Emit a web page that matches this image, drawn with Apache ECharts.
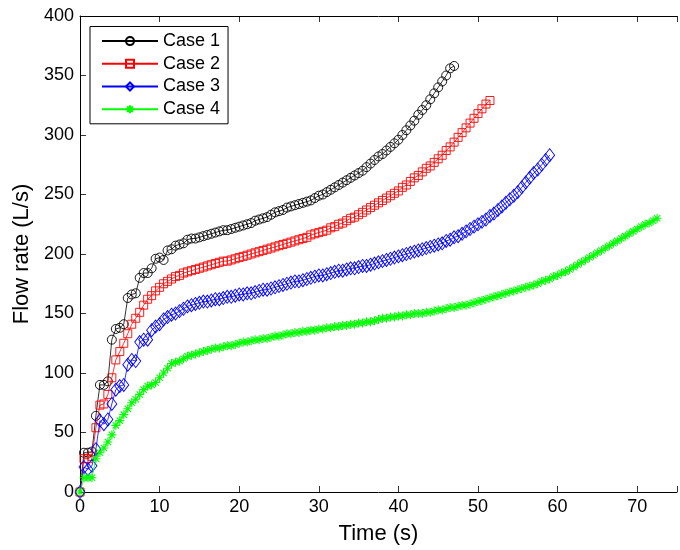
<!DOCTYPE html>
<html>
<head>
<meta charset="utf-8">
<script src="https://cdn.jsdelivr.net/npm/echarts@6/dist/echarts.min.js"></script>
<style>html,body{margin:0;padding:0;background:#fff}#c{width:680px;height:550px}</style>
</head>
<body>
<div id="c"></div>
<script>
var times = [0,0.5,1,1.5,2,2.5,3,3.5,4,4.5,5,5.5,6,6.5,7,7.5,8,8.5,9,9.5,
10,10.5,11,11.5,12,12.5,13,13.5,14,14.5,15,15.5,16,16.5,17,17.5,18,18.5,19,19.5,
20,20.5,21,21.5,22,22.5,23,23.5,24,24.5,25,25.5,26,26.5,27,27.5,28,28.5,29,29.5,
30,30.5,31,31.5,32,32.5,33,33.5,34,34.5,35,35.5,36,36.5,37,37.5,38,38.5,39,39.5,
40,40.5,41,41.5,42,42.5,43,43.5,44,44.5,45,45.5,46,46.5,47,47.5,48,48.5,49,49.5,
50,50.5,51,51.5,52,52.5,53,53.5,54,54.5,55,55.5,56,56.5,57,57.5,58,58.5,59,59.5,
60,60.5,61,61.5,62,62.5,63,63.5,64,64.5,65,65.5,66,66.5,67,67.5,68,68.5,69,69.5,
70,70.5,71,71.5,72,72.5];

var case1 = [0,33,33,34,64,90,90,93,128,137,
138,141,163,166,167,180,184,184,188,196,
197,195,203,204,207,208,209,212,213,213,
214,215,216,217,218,219,220,220,221,222,
223,224,225,226,228,229,230,231,233,235,
236,237,239,240,241,242,243,244,245,247,
249,250,252,254,256,258,260,262,264,266,
268,270,273,276,279,282,284,287,290,293,
296,300,304,308,312,317,321,325,330,335,
340,345,350,356,358];

var case2 = [0,28,28,30,54,73,74,82,96,111,
118,125,133,141,146,151,157,162,165,169,
172,175,177,179,181,182,184,185,186,187,
188,189,190,191,192,193,194,194,195,196,
197,198,199,200,201,202,203,204,205,206,
207,208,209,210,211,212,213,214,216,217,
218,219,220,222,223,225,226,228,230,231,
233,235,237,239,241,243,245,247,249,251,
253,256,258,261,264,266,269,272,274,277,
280,283,287,290,294,298,302,306,310,314,
318,322,326,329];

var case3 = [0,21,19,22,36,60,57,61,74,86,
89,90,107,111,110,126,128,128,136,139,
141,145,147,149,150,152,154,156,157,158,
159,160,160,161,162,162,163,164,164,165,
166,166,167,167,168,169,170,170,171,172,
173,174,175,176,177,177,178,179,180,181,
182,182,183,184,185,186,186,187,188,188,
189,190,190,191,192,193,194,195,196,197,
198,199,200,201,202,203,204,205,206,207,
208,209,211,212,214,215,217,219,221,223,
225,227,229,232,234,237,240,243,246,249,
252,256,260,264,268,271,275,279,283];

var case4 = [0,12,12,12,28,33,37,42,48,56,
60,65,70,75,78,82,86,89,90,92,
96,100,104,108,109,110,112,114,115,116,
117,118,119,120,121,121,122,123,123,124,
125,126,126,127,128,128,129,129,130,131,
131,132,133,133,134,134,135,135,136,136,
137,137,138,138,139,139,140,140,141,141,
142,142,143,143,144,145,146,146,147,147,
148,148,149,149,150,150,150,151,151,152,
153,153,154,155,155,156,157,157,158,159,
160,161,162,163,164,165,166,167,168,169,
170,171,172,173,174,175,177,178,179,181,
182,184,185,187,189,191,193,195,197,199,
201,203,205,207,209,211,213,215,217,219,
221,223,225,226,228,230];

var seriesNames = ['Case 1','Case 2','Case 3','Case 4'];
var xTicks = [0,10,20,30,40,50,60,70];
var yTicks = [0,50,100,150,200,250,300,350,400];

var FONT = '"Liberation Sans", Arial, Helvetica, sans-serif';
var colors = ['#000000','#ff0000','#0000ff','#00ff00'];
var symbols = ['circle','rect','diamond','path://M5,0L5,10M0,5L10,5M1.5,1.5L8.5,8.5M1.5,8.5L8.5,1.5'];
var sizes = [9, 8, [10,13], 9];
var borderW = [0.9, 0.9, 0.9, 1.1];
var allData = [case1, case2, case3, case4];

function pairs(vals){
  var out = [];
  for (var i = 0; i < vals.length; i++) out.push([times[i], vals[i]]);
  return out;
}

var series = allData.map(function(vals, k){
  return {
    name: seriesNames[k],
    type: 'line',
    xAxisIndex: 0,
    data: pairs(vals),
    symbol: symbols[k],
    symbolSize: sizes[k],
    showSymbol: true,
    showAllSymbol: true,
    clip: false,
    lineStyle: {color: colors[k], width: 0.8},
    itemStyle: {color: 'rgba(0,0,0,0)', borderColor: colors[k], borderWidth: borderW[k]},
    emphasis: {disabled: true},
    z: 2 + k
  };
});

var chart = echarts.init(document.getElementById('c'), null, {renderer: 'canvas'});
chart.setOption({
  animation: false,
  backgroundColor: '#ffffff',
  textStyle: {fontFamily: FONT},
  grid: {left: 80, top: 16, width: 608, height: 480.5, containLabel: false},
  legend: {
    left: 90, top: 26.5,
    orient: 'vertical',
    data: seriesNames,
    itemWidth: 56, itemHeight: 10, itemGap: 4.7,
    padding: [5.6, 8, 5.6, 11],
    borderColor: '#000', borderWidth: 1,
    backgroundColor: '#fff',
    textStyle: {fontFamily: FONT, fontSize: 18, color: '#000', lineHeight: 18},
    selectedMode: false
  },
  xAxis: [{
    type: 'value', min: 0, max: 75, interval: 10,
    position: 'bottom',
    name: 'Time (s)', nameLocation: 'middle', nameGap: 31,
    nameTextStyle: {fontFamily: FONT, fontSize: 22, color: '#000'},
    axisLine: {show: true, onZero: false, lineStyle: {color: '#000', width: 1}},
    axisTick: {show: true, inside: true, length: 6, lineStyle: {color: '#000', width: 0.8}},
    axisLabel: {fontFamily: FONT, fontSize: 18, color: '#000', margin: 6,
      formatter: function(v){ return xTicks.indexOf(v) >= 0 ? String(v) : ''; }},
    splitLine: {show: false}
  }, {
    type: 'value', min: 0, max: 75, interval: 10,
    position: 'top',
    axisLine: {show: true, onZero: false, lineStyle: {color: '#000', width: 1}},
    axisTick: {show: true, inside: true, length: 6, lineStyle: {color: '#000', width: 0.8}},
    axisLabel: {show: false},
    splitLine: {show: false}
  }],
  yAxis: {
    type: 'value', min: 0, max: 400, interval: 50,
    name: 'Flow rate (L/s)', nameLocation: 'middle', nameGap: 47,
    nameTextStyle: {fontFamily: FONT, fontSize: 22, color: '#000'},
    axisLine: {show: true, onZero: false, lineStyle: {color: '#000', width: 1}},
    axisTick: {show: true, inside: true, length: 6, lineStyle: {color: '#000', width: 0.8}},
    axisLabel: {fontFamily: FONT, fontSize: 18, color: '#000', margin: 6, padding: [4, 0, 0, 0],
      formatter: function(v){ return yTicks.indexOf(v) >= 0 ? String(v) : ''; }},
    splitLine: {show: false}
  },
  series: series
});
</script>
</body>
</html>
